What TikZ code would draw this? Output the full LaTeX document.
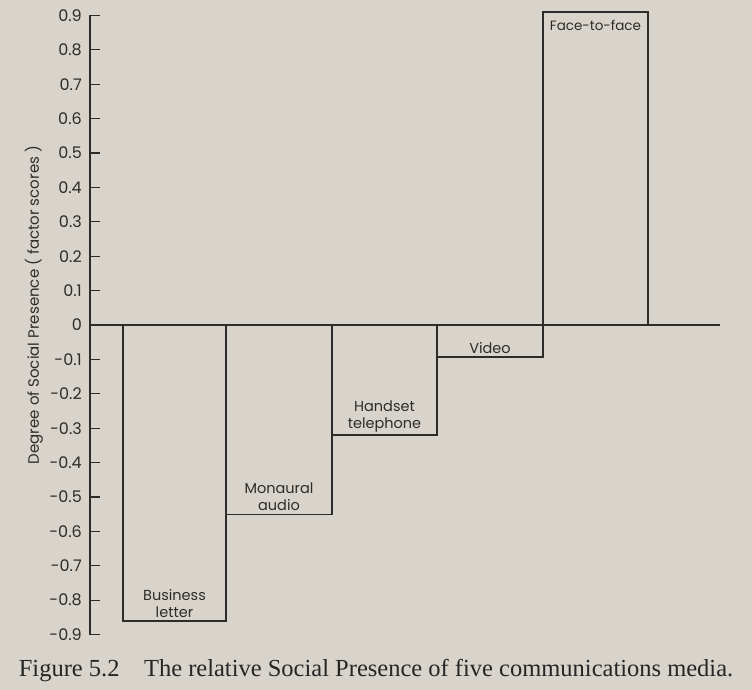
\documentclass[tikz,border=0pt]{standalone}
\usepackage{fontspec}
\setmainfont{Liberation Serif}
\newfontfamily\chartfont{Poppins}
\usetikzlibrary{positioning}
\definecolor{paper}{HTML}{D8D3CB}
\definecolor{ink}{HTML}{2E2C2A}
\tikzset{bar/.style={draw=ink,line width=1.3pt}}
\tikzset{barlabel/.style={font=\chartfont\fontsize{14.5}{17}\selectfont,text=ink,align=center,inner sep=3pt}}
\tikzset{ticklabel/.style={font=\chartfont\fontsize{16}{18}\selectfont,text=ink,anchor=east,inner sep=0pt}}

\begin{document}
\begin{tikzpicture}[x=1pt,y=344pt]
% the page behind the chart
\fill[paper] (0,-1.061) rectangle (752,0.9448);
\useasboundingbox (0,-1.061) rectangle (752,0.9448);

% vertical axis with ticks
\coordinate (ytop) at (90,0.9);
\coordinate (ybot) at (90,-0.9);
\draw[bar] (ytop) -- (ybot);
\foreach \t [count=\k] in {0.9,0.8,0.7,0.6,0.5,0.4,0.3,0.2,0.1,0,-0.1,-0.2,-0.3,-0.4,-0.5,-0.6,-0.7,-0.8,-0.9}
  {
  \draw[bar] (90,\t) -- (100,\t);
  \node[ticklabel] (tick\k) at (82,\t) {\t};
  }

\node[rotate=90,font=\chartfont\fontsize{15}{17}\selectfont,text=ink] (ytitle) at (34,0.058) {Degree of Social Presence ( factor scores )};

% zero line
\coordinate (zl) at (90,0);
\coordinate (zr) at (720,0);
\draw[bar] (zl) -- (zr);

% the five bars
\draw[bar] (123,0) rectangle (226,-0.86);
\draw[bar] (226,0) rectangle (332,-0.55);
\draw[bar] (332,0) rectangle (437,-0.32);
\draw[bar] (437,0) rectangle (543,-0.093);
\draw[bar] (543,0) rectangle (648,0.91);

\node[barlabel,anchor=south] (letter) at (174.5,-0.86) {Business\\letter};
\node[barlabel,anchor=south] (audio) at (279,-0.55) {Monaural\\audio};
\node[barlabel,anchor=south] (phone) at (384.5,-0.32) {Handset\\telephone};
\node[barlabel,anchor=south] (video) at (490,-0.093) {Video};
\node[barlabel,anchor=north,font=\chartfont\fontsize{13.5}{16}\selectfont,yshift=-5pt] (face) at (595.5,0.91) {Face-to-face};

% caption
\node[font=\fontsize{24.5}{28}\selectfont,text=black!85] (caption) at (376,-1.003) {Figure 5.2\quad The relative Social Presence of five communications media.};
\end{tikzpicture}
\end{document}
